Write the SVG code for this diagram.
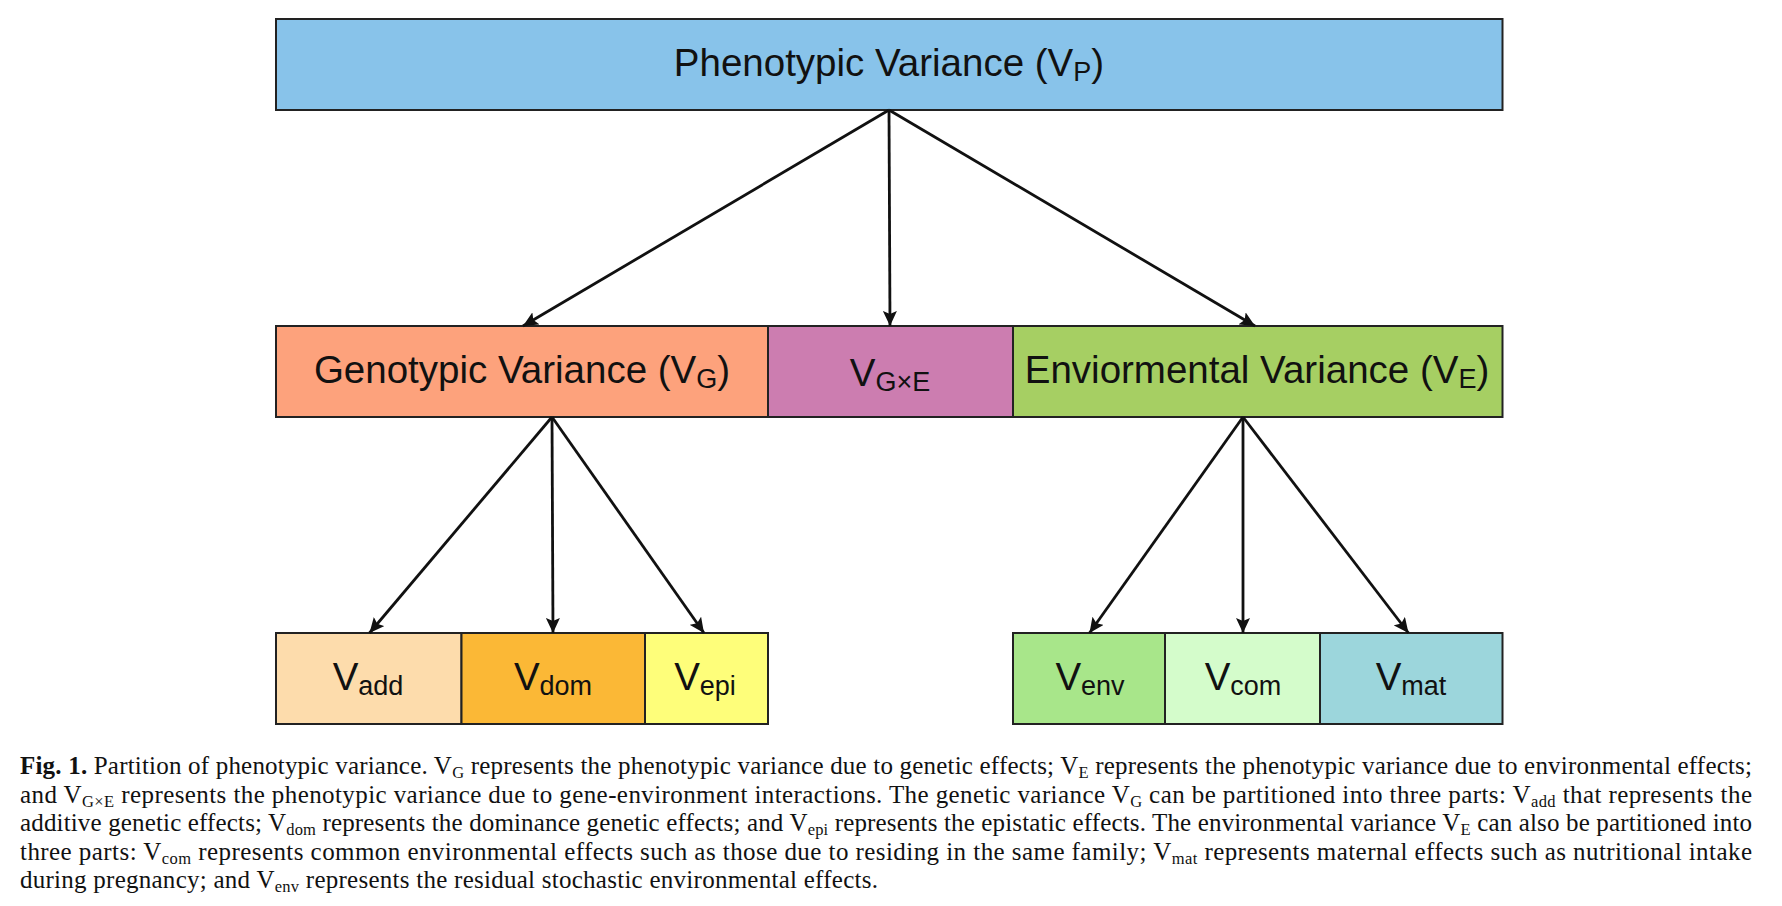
<svg xmlns="http://www.w3.org/2000/svg" width="1782" height="906" viewBox="0 0 1782 906">
<style>
.box{stroke:#222;stroke-width:2}
.lbl{font-family:"Liberation Sans",Arial,sans-serif;font-size:38.5px;fill:#111;text-anchor:middle}
.sub{font-size:27px}
.conn{stroke:#111;stroke-width:2.8;fill:none;marker-end:url(#ah)}
.cap{font-family:"Liberation Serif","Times New Roman",serif;font-size:25px;fill:#111}
.cs{font-size:16.5px}
</style>
<defs>
<marker id="ah" markerUnits="userSpaceOnUse" markerWidth="16" markerHeight="14" viewBox="0 0 16 14" refX="15" refY="7" orient="auto">
<path d="M0,0 L15,7 L0,14 L3,7 Z" fill="#111"/>
</marker>
</defs>
<rect width="1782" height="906" fill="#fff"/>

<g id="node-vp">
<rect class="box" x="276" y="19" width="1226.5" height="91" fill="#88C3EA"/>
<text class="lbl" x="889" y="76">Phenotypic Variance (V<tspan class="sub" dy="5">P</tspan><tspan dy="-5">)</tspan></text>
</g>

<g id="node-vg">
<rect class="box" x="276" y="326" width="492" height="91" fill="#FDA27C"/>
<text class="lbl" x="522" y="383">Genotypic Variance (V<tspan class="sub" dy="5">G</tspan><tspan dy="-5">)</tspan></text>
</g>
<g id="node-vgxe">
<rect class="box" x="768" y="326" width="245" height="91" fill="#CC7DB0"/>
<text class="lbl" x="890" y="386">V<tspan class="sub" dy="5">G×E</tspan></text>
</g>
<g id="node-ve">
<rect class="box" x="1013" y="326" width="489.5" height="91" fill="#A6CF63"/>
<text class="lbl" x="1257" y="383">Enviormental Variance (V<tspan class="sub" dy="5">E</tspan><tspan dy="-5">)</tspan></text>
</g>

<g id="node-vadd">
<rect class="box" x="276" y="633" width="185.5" height="91" fill="#FDDCAC"/>
<text class="lbl" x="368" y="690">V<tspan class="sub" dy="5">add</tspan></text>
</g>
<g id="node-vdom">
<rect class="box" x="461.5" y="633" width="183.5" height="91" fill="#FBB836"/>
<text class="lbl" x="553" y="690">V<tspan class="sub" dy="5">dom</tspan></text>
</g>
<g id="node-vepi">
<rect class="box" x="645" y="633" width="123" height="91" fill="#FEFE7A"/>
<text class="lbl" x="705" y="690">V<tspan class="sub" dy="5">epi</tspan></text>
</g>
<g id="node-venv">
<rect class="box" x="1013" y="633" width="152" height="91" fill="#A8E68A"/>
<text class="lbl" x="1090" y="690">V<tspan class="sub" dy="5">env</tspan></text>
</g>
<g id="node-vcom">
<rect class="box" x="1165" y="633" width="155" height="91" fill="#D4FCCB"/>
<text class="lbl" x="1243" y="690">V<tspan class="sub" dy="5">com</tspan></text>
</g>
<g id="node-vmat">
<rect class="box" x="1320" y="633" width="182.5" height="91" fill="#9CD6DC"/>
<text class="lbl" x="1411" y="690">V<tspan class="sub" dy="5">mat</tspan></text>
</g>

<g id="connectors">
<line class="conn" x1="889" y1="110" x2="523" y2="326"/>
<line class="conn" x1="889" y1="110" x2="890" y2="326"/>
<line class="conn" x1="889" y1="110" x2="1255" y2="326"/>
<line class="conn" x1="552" y1="417" x2="369.5" y2="633"/>
<line class="conn" x1="552" y1="417" x2="553" y2="633"/>
<line class="conn" x1="552" y1="417" x2="704" y2="633"/>
<line class="conn" x1="1243" y1="417" x2="1089.5" y2="633"/>
<line class="conn" x1="1243" y1="417" x2="1243" y2="633"/>
<line class="conn" x1="1243" y1="417" x2="1408.5" y2="633"/>
</g>

<g id="caption">
<text class="cap" x="20" y="774" textLength="1732" lengthAdjust="spacing"><tspan font-weight="bold">Fig. 1.</tspan> Partition of phenotypic variance. V<tspan class="cs" dy="4">G</tspan><tspan dy="-4"> represents the phenotypic variance due to genetic effects; V</tspan><tspan class="cs" dy="4">E</tspan><tspan dy="-4"> represents the phenotypic variance due to environmental effects;</tspan></text>
<text class="cap" x="20" y="802.5" textLength="1732" lengthAdjust="spacing">and V<tspan class="cs" dy="4">G×E</tspan><tspan dy="-4"> represents the phenotypic variance due to gene-environment interactions. The genetic variance V</tspan><tspan class="cs" dy="4">G</tspan><tspan dy="-4"> can be partitioned into three parts: V</tspan><tspan class="cs" dy="4">add</tspan><tspan dy="-4"> that represents the</tspan></text>
<text class="cap" x="20" y="831" textLength="1732" lengthAdjust="spacing">additive genetic effects; V<tspan class="cs" dy="4">dom</tspan><tspan dy="-4"> represents the dominance genetic effects; and V</tspan><tspan class="cs" dy="4">epi</tspan><tspan dy="-4"> represents the epistatic effects. The environmental variance V</tspan><tspan class="cs" dy="4">E</tspan><tspan dy="-4"> can also be partitioned into</tspan></text>
<text class="cap" x="20" y="859.5" textLength="1732" lengthAdjust="spacing">three parts: V<tspan class="cs" dy="4">com</tspan><tspan dy="-4"> represents common environmental effects such as those due to residing in the same family; V</tspan><tspan class="cs" dy="4">mat</tspan><tspan dy="-4"> represents maternal effects such as nutritional intake</tspan></text>
<text class="cap" x="20" y="888" textLength="858" lengthAdjust="spacing">during pregnancy; and V<tspan class="cs" dy="4">env</tspan><tspan dy="-4"> represents the residual stochastic environmental effects.</tspan></text>
</g>
</svg>
